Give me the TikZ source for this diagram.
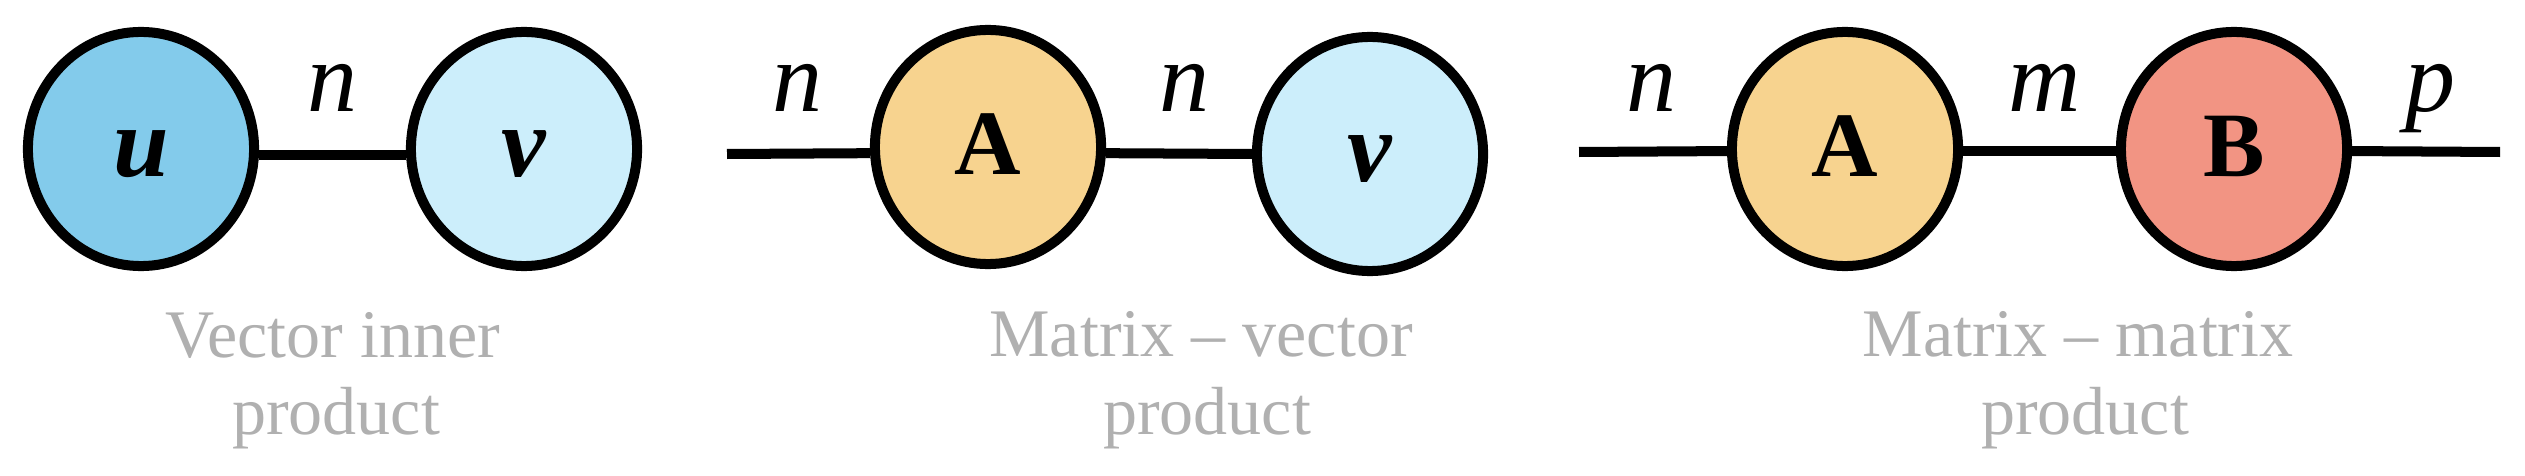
\documentclass[tikz,border=0pt]{standalone}
\usepackage{fontspec}
\setmainfont{Liberation Serif}
\usetikzlibrary{shapes.geometric}
\definecolor{ublue}{HTML}{83CBEB}
\definecolor{vblue}{HTML}{CCEEFB}
\definecolor{aorange}{HTML}{F7D38F}
\definecolor{bred}{HTML}{F29483}
\definecolor{capgray}{HTML}{B0B0B0}
\begin{document}
\begin{tikzpicture}[x=0.01cm,y=-0.01cm,
  tn/.style={ellipse, draw=black, line width=0.1cm, minimum width=2.26cm,
    minimum height=2.34cm, inner sep=0pt, text height=0.54cm, text depth=0cm},
  bond/.style={line width=0.1cm},
  dimlabel/.style={anchor=base, inner sep=0pt, font=\fontsize{28.45}{30}\selectfont\itshape},
  captext/.style={anchor=base, inner sep=0pt, text=capgray, font=\fontsize{19.35}{22.2}\selectfont},
  vec/.style={font=\fontsize{28.45}{30}\selectfont\bfseries\itshape},
  mat/.style={font=\fontsize{26.2}{28}\selectfont\bfseries}]
\useasboundingbox (0,0) rectangle (2525,476);

% Panel 1: vector inner product
\node[tn, fill=ublue, vec] (u) at (141,149) {u};
\node[tn, fill=vblue, vec] (v1) at (524,149) {v};
\draw[bond] (u.-3) -- (v1.183);
\node[dimlabel] (n1) at (333,112) {n};
\node[captext] (c1a) at (333,357) {Vector inner};
\node[captext] (c1b) at (336,434) {product};

% Panel 2: matrix-vector product
\coordinate (l2) at (727,154);
\node[tn, fill=aorange, mat] (A2) at (988,147) {A};
\node[tn, fill=vblue, vec] (v2) at (1370,154) {v};
\draw[bond] (l2) -- (A2.183.5);
\draw[bond] (A2.-3.5) -- (v2.west);
\node[dimlabel] (n2) at (797,112) {n};
\node[dimlabel] (n3) at (1184,112) {n};
\node[captext] (c2a) at (1201,356) {Matrix -- vector};
\node[captext] (c2b) at (1207,434) {product};

% Panel 3: matrix-matrix product
\coordinate (l3) at (1579,152);
\coordinate (r3) at (2500,152);
\node[tn, fill=aorange, mat] (A3) at (1845,149) {A};
\node[tn, fill=bred, mat] (B3) at (2234,149) {B};
\draw[bond] (l3) -- (A3.181.5);
\draw[bond] (A3.-1.5) -- (B3.181.5);
\draw[bond] (B3.-1.5) -- (r3);
\node[dimlabel] (n4) at (1651,112) {n};
\node[dimlabel] (m4) at (2045,112) {m};
\node[dimlabel] (p4) at (2430,112) {p};
\node[captext] (c3a) at (2078,356) {Matrix -- matrix};
\node[captext] (c3b) at (2085,434) {product};
\end{tikzpicture}
\end{document}
